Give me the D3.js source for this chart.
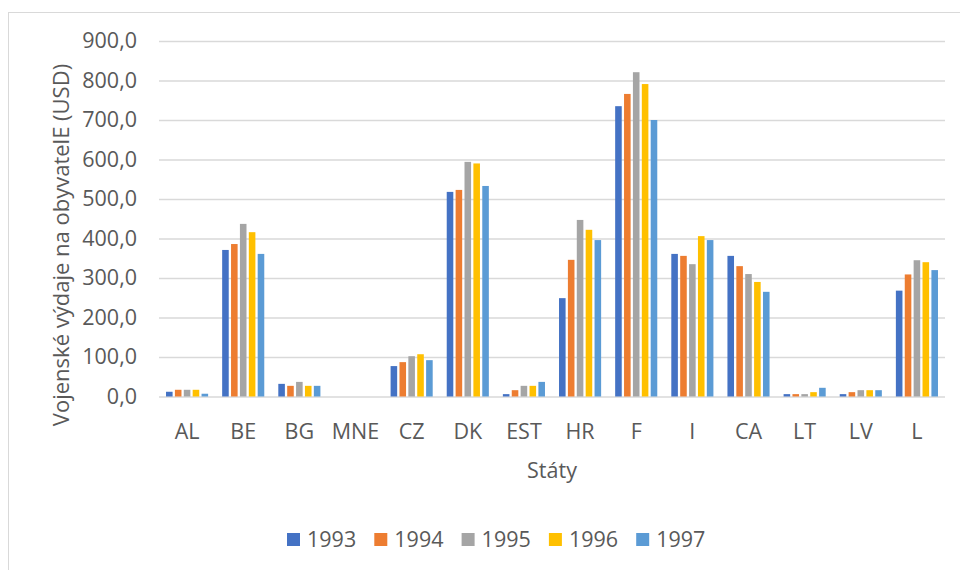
<!DOCTYPE html>
<html>
<head>
<meta charset="utf-8">
<script src="https://cdn.jsdelivr.net/npm/d3@7"></script>
<style>
  body { margin: 0; background: #fff; }
  text { font-family: "Open Sans", sans-serif; fill: #595959; }
</style>
</head>
<body>
<div id="chart"></div>
<script>
// data
var states = ["AL", "BE", "BG", "MNE", "CZ", "DK", "EST", "HR", "F", "I", "CA", "LT", "LV", "L"];
var years = ["1993", "1994", "1995", "1996", "1997"];
var v1993 = [12, 371, 32, 0, 77, 518, 6, 249, 735, 361, 356, 6, 6, 268];
var v1994 = [17, 386, 27, 0, 87, 523, 16, 346, 766, 356, 330, 6, 11, 309];
var v1995 = [17, 437, 37, 0, 102, 594, 27, 447, 821, 335, 310, 6, 16, 345];
var v1996 = [17, 416, 27, 0, 107, 590, 27, 422, 791, 406, 290, 11, 16, 340];
var v1997 = [7, 361, 27, 0, 92, 533, 37, 396, 700, 396, 265, 22, 16, 320];
var yTicks = [0, 100, 200, 300, 400, 500, 600, 700, 800, 900];
var colors = ["#4472C4", "#ED7D31", "#A5A5A5", "#FFC000", "#5B9BD5"];

var series = [v1993, v1994, v1995, v1996, v1997];

// svg container
var svgWidth = 960;
var svgHeight = 570;

var margin = { top: 41, right: 15, bottom: 173.5, left: 159 };
var chartWidth = svgWidth - margin.left - margin.right;
var chartHeight = svgHeight - margin.top - margin.bottom;

var svg = d3.select("#chart").append("svg")
    .attr("width", svgWidth)
    .attr("height", svgHeight);

// outer chart frame (runs off the picture at right and bottom)
svg.append("rect")
    .attr("x", 8.5)
    .attr("y", 12.5)
    .attr("width", 1000)
    .attr("height", 600)
    .attr("fill", "none")
    .attr("stroke", "#d9d9d9");

var chartGroup = svg.append("g")
    .attr("transform", `translate(${margin.left}, ${margin.top})`);

// scales
var yScale = d3.scaleLinear()
    .domain([0, 900])
    .range([chartHeight, 0]);

var xScale = d3.scaleBand()
    .domain(states)
    .range([0, chartWidth])
    .paddingInner(0.25)
    .paddingOuter(0.125);

var x1Scale = d3.scaleBand()
    .domain(years)
    .range([0, xScale.bandwidth()])
    .paddingInner(0.26);

var fmt = d => d3.format(".1f")(d).replace(".", ",");

// gridlines + y labels
var yAxis = d3.axisLeft(yScale)
    .tickValues(yTicks)
    .tickSize(-chartWidth)
    .tickPadding(22)
    .tickFormat(fmt);

var yg = chartGroup.append("g").call(yAxis);
yg.select(".domain").remove();
yg.selectAll("line").attr("stroke", "#d9d9d9").attr("stroke-width", 1.5);
yg.selectAll("text")
    .style("font-size", "21.5px")
    .style("font-family", "'Open Sans', sans-serif")
    .attr("fill", "#595959");

// x labels
var xAxis = d3.axisBottom(xScale).tickSize(0).tickPadding(27);
var xg = chartGroup.append("g")
    .attr("transform", `translate(0, ${chartHeight})`)
    .call(xAxis);
xg.select(".domain").remove();
xg.selectAll("text")
    .style("font-size", "21.5px")
    .style("font-family", "'Open Sans', sans-serif")
    .attr("fill", "#595959");

// bars
var groups = chartGroup.selectAll(".state")
    .data(states)
    .enter()
    .append("g")
    .attr("class", "state")
    .attr("transform", d => `translate(${xScale(d)}, 0)`);

groups.selectAll("rect")
    .data((d, i) => years.map((y, j) => ({ year: y, value: series[j][i], color: colors[j] })))
    .enter()
    .append("rect")
    .attr("x", d => x1Scale(d.year))
    .attr("y", d => yScale(d.value))
    .attr("width", x1Scale.bandwidth())
    .attr("height", d => chartHeight - yScale(d.value))
    .attr("fill", d => d.color);

// axis titles
svg.append("text")
    .attr("transform", "translate(69, 245) rotate(-90)")
    .attr("text-anchor", "middle")
    .style("font-size", "22px")
    .text("Vojenské výdaje na obyvatelE (USD)");

svg.append("text")
    .attr("x", margin.left + chartWidth / 2)
    .attr("y", 478)
    .attr("text-anchor", "middle")
    .style("font-size", "21.5px")
    .text("Státy");

// legend
var legend = svg.append("g")
    .attr("transform", "translate(287, 533)");

var item = legend.selectAll(".item")
    .data(years)
    .enter()
    .append("g")
    .attr("class", "item")
    .attr("transform", (d, i) => `translate(${i * 87.3}, 0)`);

item.append("rect")
    .attr("width", 13)
    .attr("height", 13)
    .attr("fill", (d, i) => colors[i]);

item.append("text")
    .attr("x", 20)
    .attr("y", 14)
    .style("font-size", "21.5px")
    .text(d => d);
</script>
</body>
</html>
